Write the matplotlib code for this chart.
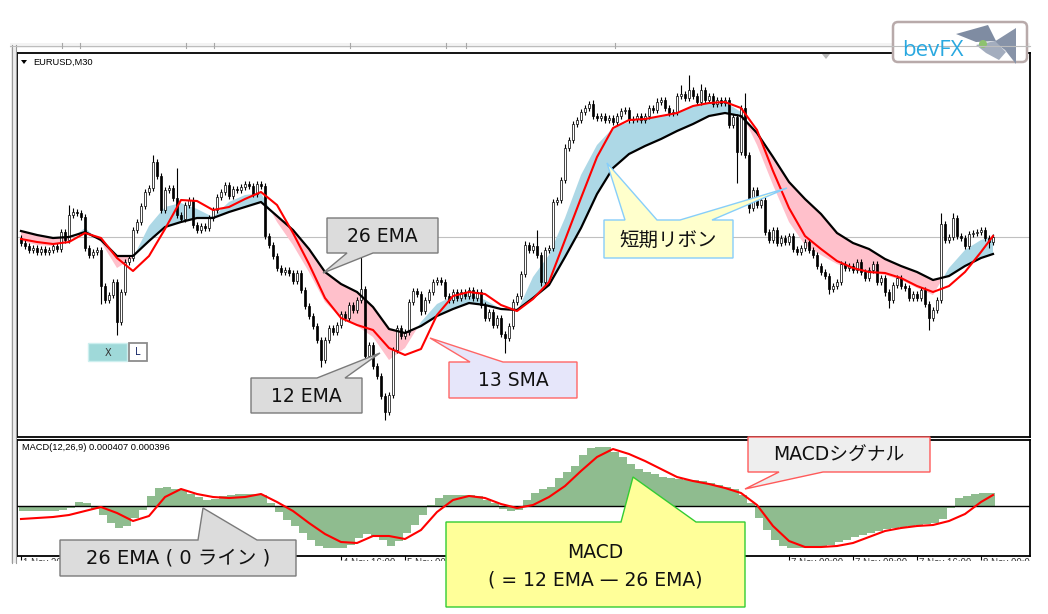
import numpy as np
import matplotlib
matplotlib.use('Agg')
import matplotlib.pyplot as plt
from matplotlib.patches import Polygon, Rectangle, FancyBboxPatch, Circle

W, H = 1048, 614
fig = plt.figure(figsize=(W / 100, H / 100), dpi=100)
fig.patch.set_facecolor('white')

# ---------------- data (price in pips relative to BASE) ----------------
BASE = 1.1000
PIP = 0.0001
MACD_UNIT = 0.00003

open0_pips = -1
closes_pips = [
    -6, -9, -13, -11, -15, -12, -15, -13, -9, -12,
    5, -3, 22, 25, 24, 20, -11, -18, -15, -13,
    -49, -63, -58, -45, -85, -55, -25, -21, 7, 15,
    31, 45, 49, 75, 61, 27, 47, 49, 39, 22,
    18, 32, 37, 12, 7, 11, 9, 19, 27, 40,
    45, 52, 41, 48, 47, 50, 53, 51, 43, 53,
    51, 1, -8, -19, -31, -35, -33, -36, -44, -36,
    -53, -69, -79, -89, -103, -123, -103, -91, -95, -88,
    -77, -81, -68, -73, -63, -52, -119, -108, -129, -139,
    -159, -175, -158, -113, -91, -99, -95, -65, -54, -57,
    -74, -63, -55, -45, -43, -45, -59, -63, -55, -61,
    -55, -59, -53, -61, -55, -68, -81, -75, -88, -81,
    -97, -101, -89, -65, -59, -37, -8, -13, -9, -18,
    -45, -13, -11, 35, 37, 57, 89, 97, 113, 117,
    125, 129, 133, 121, 119, 121, 117, 119, 115, 121,
    126, 127, 117, 118, 121, 117, 121, 129, 127, 135,
    137, 129, 124, 125, 141, 143, 139, 147, 141, 135,
    147, 137, 141, 133, 137, 134, 137, 112, 120, 85,
    129, 82, 29, 47, 32, 37, 5, -3, 7, -6,
    -1, -5, 1, -12, -15, -11, -5, -13, -18, -29,
    -35, -39, -52, -49, -45, -27, -31, -29, -33, -25,
    -35, -41, -33, -27, -45, -41, -55, -63, -48, -41,
    -49, -51, -61, -57, -61, -53, -67, -81, -73, -63,
    13, -3, 0, 19, 1, -1, -9, 3, 4, 5,
    7, -1, -5, 0,
]
DEFAULT_WICK = 3
upper_wick = {12: 10, 13: 4, 33: 7, 39: 30, 85: 32, 126: 4, 129: 16, 136: 4,
              143: 4, 159: 4, 165: 9, 167: 15, 170: 6, 181: 15, 230: 11, 233: 5}
lower_wick = {20: 18, 24: 13, 75: 7, 86: 5, 91: 8, 100: 4, 121: 15, 130: 4,
              179: 31, 182: 5, 202: 5, 216: 4, 217: 8, 227: 12, 242: 6}

# indicator lines sampled every 4 bars
line_idx = list(range(0, 241, 4)) + [243]
sma13_pips = [-2, -5, -7, -5, 4, -1, -21, -34, -19, 8, 37, 36, 27, 30, 38, 45,
              32, 4, -27, -61, -81, -88, -93, -111, -118, -112, -78, -59, -55,
              -57, -68, -74, -62, -45, -3, 39, 80, 109, 117, 118, 121, 124, 131,
              134, 135, 129, 107, 66, 29, 1, -12, -24, -31, -35, -36, -41, -49,
              -55, -49, -35, -15, 1]
ema26_pips = [6, 2, -1, 0, 5, -3, -19, -19, -4, 10, 15, 19, 19, 25, 30, 35,
              21, 7, -12, -35, -47, -55, -70, -92, -96, -89, -79, -72, -66,
              -68, -72, -73, -61, -48, -20, 9, 43, 69, 83, 91, 98, 106, 113,
              121, 124, 121, 104, 80, 55, 38, 23, 4, -6, -12, -22, -29, -35,
              -43, -39, -29, -21, -17]
ema12_pips = [-4, -8, -9, -3, 9, -5, -31, -21, 11, 30, 34, 28, 20, 35, 42, 44,
              15, -8, -35, -65, -81, -89, -100, -123, -111, -85, -67, -59, -57,
              -63, -72, -75, -40, -18, 19, 62, 92, 109, 115, 118, 120, 125, 131,
              135, 135, 125, 92, 52, 15, -8, -18, -27, -33, -36, -38, -43, -51,
              -58, -31, -13, -3, 0]
signal_units = [-13, -12, -11, -9, -5, -1, -7, -15, -10, 9, 17, 12, 9, 8, 9, 12,
                4, -5, -17, -28, -36, -37, -30, -30, -33, -24, -6, 6, 10, 8, 2,
                -2, 1, 9, 20, 35, 49, 57, 52, 45, 37, 29, 25, 22, 18, 13, 1,
                -20, -35, -41, -41, -40, -37, -31, -25, -22, -20, -19, -15, -8,
                4, 11]
# MACD histogram sampled every 2 bars
hist_idx = list(range(0, 243, 2))
hist_units = [
    -5, -5, -5, -5, -5, -4, -2, 4, 3, -3,
    -9, -17, -22, -20, -12, -4, 10, 18, 19, 17,
    16, 12, 9, 6, 7, 10, 11, 12, 12, 12,
    11, 3, -6, -14, -20, -27, -34, -40, -42, -42,
    -42, -39, -32, -28, -30, -34, -40, -35, -27, -19,
    -9, 1, 8, 11, 11, 11, 11, 10, 6, 3,
    -3, -5, -4, 6, 13, 17, 19, 28, 34, 40,
    51, 58, 59, 59, 54, 49, 42, 37, 34, 32,
    29, 28, 27, 26, 26, 25, 23, 21, 19, 17,
    11, 3, -12, -24, -34, -40, -42, -42, -42, -42,
    -41, -39, -36, -34, -31, -29, -27, -25, -23, -22,
    -21, -20, -19, -18, -17, -13, -2, 8, 10, 12,
    13, 13,
]
# time-axis labels (cut off at the bottom of the screenshot); bar index -> text
time_label_bars = [0, 80, 96, 192, 208, 224, 240]
time_labels = ["1 Nov 2019", "4 Nov 16:00", "5 Nov 00:00", "7 Nov 00:00",
               "7 Nov 08:00", "7 Nov 16:00", "8 Nov 00:00"]

# ---------------- derived arrays ----------------
n = len(closes_pips)
idx = np.arange(n)
closes = BASE + np.array(closes_pips) * PIP
opens = np.concatenate([[BASE + open0_pips * PIP], closes[:-1]])
uw = np.array([upper_wick.get(i, DEFAULT_WICK) for i in range(n)]) * PIP
lw_ = np.array([lower_wick.get(i, DEFAULT_WICK) for i in range(n)]) * PIP
highs = np.maximum(opens, closes) + uw
lows = np.minimum(opens, closes) - lw_

lx = np.array(line_idx)
sma13 = BASE + np.array(sma13_pips) * PIP
ema26 = BASE + np.array(ema26_pips) * PIP
ema12 = BASE + np.array(ema12_pips) * PIP
signal = np.array(signal_units) * MACD_UNIT
hist = np.array(hist_units) * MACD_UNIT


def px_axes(x0, y0, x1, y1, **kw):
    return fig.add_axes([x0 / W, 1 - y1 / H, (x1 - x0) / W, (y1 - y0) / H], **kw)


XLIM = (-1, 252.25)

# ---------------- main price panel ----------------
ax = px_axes(17, 53, 1030, 437)
ax.set_xlim(*XLIM)
ax.set_ylim(BASE - 200 * PIP, BASE + 184 * PIP)
ax.set_xticks([]); ax.set_yticks([])
for s in ax.spines.values():
    s.set_color('black'); s.set_linewidth(1.3)

ax.axhline(closes[-1], color='#C0C0C0', lw=0.8, zorder=1)
ax.fill_between(lx, ema26, ema12, where=ema12 >= ema26, interpolate=True,
                color='#ADD8E6', lw=0, zorder=2)
ax.fill_between(lx, ema26, ema12, where=ema12 < ema26, interpolate=True,
                color='#FFC0CB', lw=0, zorder=2)
ax.vlines(idx, lows, highs, color='black', lw=0.8, zorder=3)
bull = closes >= opens
body_h = np.maximum(np.abs(closes - opens), 0.4 * PIP)
body_b = np.minimum(opens, closes)
ax.bar(idx[bull], body_h[bull], bottom=body_b[bull], width=0.72,
       color='white', edgecolor='black', lw=0.5, zorder=4)
ax.bar(idx[~bull], body_h[~bull], bottom=body_b[~bull], width=0.72,
       color='black', edgecolor='black', lw=0.5, zorder=4)
ax.plot(lx, ema26, color='black', lw=1.6, zorder=5)
ax.plot(lx, sma13, color='#FF0000', lw=1.5, zorder=6)

# ---------------- MACD panel ----------------
ax2 = px_axes(17, 440, 1030, 556)
ax2.set_xlim(*XLIM)
ax2.set_ylim(-50 * MACD_UNIT, 66 * MACD_UNIT)
ax2.set_yticks([])
ax2.set_xticks(np.arange(0, 244, 16))
ax2.tick_params(axis='x', direction='out', length=3, width=0.8,
                labelbottom=False, color='black')
for s in ax2.spines.values():
    s.set_color('black'); s.set_linewidth(1.3)
ax2.bar(np.array(hist_idx) + 0.5, hist, width=2.0, color='#8FBC8F', lw=0, zorder=2)
ax2.axhline(0, color='black', lw=1.0, zorder=3)
ax2.plot(lx, signal, color='#FF0000', lw=1.5, zorder=4)

# cut-off time labels under MACD panel (only their top pixels show)
fax = px_axes(17, 557.5, 1030, 561)
fax.set_xlim(*XLIM); fax.set_ylim(0, 1); fax.axis('off')
for b, lab in zip(time_label_bars, time_labels):
    fax.text(b + 0.5, 1.0, lab, fontsize=7, va='top', ha='left',
             color='#333333', clip_on=True, family='Liberation Sans')

# ---------------- overlay (pixel coordinates) ----------------
ov = fig.add_axes([0, 0, 1, 1], zorder=10)
ov.set_xlim(0, W); ov.set_ylim(H, 0); ov.axis('off')
ov.patch.set_alpha(0)

# window frame bits
ov.add_patch(Rectangle((11, 45), 5, 518, fc='#EDEDED', ec='none'))
ov.plot([11.5, 11.5], [45, 563], color='#9A9A9A', lw=0.8)
ov.plot([15.5, 15.5], [45, 563], color='#9A9A9A', lw=0.8)
ov.add_patch(Rectangle((10, 43), 1020, 5, fc='#F3F3F3', ec='none'))
ov.plot([10, 1030], [45.5, 45.5], color='#BDBDBD', lw=0.8)
for tx in [62, 80, 186, 214, 350, 446, 466, 615]:
    ov.plot([tx, tx], [43, 48], color='#A8A8A8', lw=0.8)
ov.add_patch(Polygon([(822, 54), (830, 54), (826, 59)], closed=True,
                     fc='#B8B8B8', ec='none'))

# panel labels
ov.add_patch(Polygon([(21, 60), (27, 60), (24, 64)], closed=True, fc='black', ec='none'))
ov.text(33, 62, 'EURUSD,M30', fontsize=6.7, family='Liberation Sans',
        va='center', ha='left', color='black')
ov.text(22, 448, 'MACD(12,26,9) 0.000407 0.000396', fontsize=6.7,
        family='Liberation Sans', va='center', ha='left', color='black')

# X / L buttons
ov.add_patch(Rectangle((88, 343), 39, 18, fc='#9FD9D9', ec='#CDEFEF', lw=1))
ov.text(108, 352.5, 'X', fontsize=7, ha='center', va='center', color='#333333',
        family='DejaVu Sans')
ov.add_patch(Rectangle((129, 343), 18, 18, fc='white', ec='#8C8C8C', lw=1.3))
ov.text(138, 352, 'L', fontsize=7, ha='center', va='center', color='#1A2A6A',
        family='DejaVu Sans')

# logo
ov.add_patch(FancyBboxPatch((893, 22), 134, 40,
                            boxstyle='round,pad=0,rounding_size=5',
                            fc='white', ec='#B8AAAA', lw=1.8))
ov.text(902, 50, 'bevFX', fontsize=16, family='Open Sans', color='#29A8E0',
        ha='left', va='center')
ov.add_patch(Polygon([(956, 34), (988, 25), (996, 41), (976, 42)], closed=True,
                     fc='#7F8CA2', ec='none'))
ov.add_patch(Polygon([(994, 42), (1016, 28), (1016, 64), (1005, 50)], closed=True,
                     fc='#8793A8', ec='none'))
ov.add_patch(Polygon([(976, 45), (995, 41), (1006, 52), (999, 60), (986, 53)],
                     closed=True, fc='#A3ADBE', ec='none'))
ov.add_patch(Circle((983, 44), 4, fc='#8DC26F', ec='none'))

# callouts
FAM = ['DejaVu Sans', 'Noto Sans CJK JP']
FS = 13.5


def callout(verts, fc, ec, lw=1.0):
    ov.add_patch(Polygon(verts, closed=True, fc=fc, ec=ec, lw=lw,
                         joinstyle='miter', zorder=5))


def label(x, y, s, fs=FS):
    ov.text(x, y, s, fontsize=fs, family=FAM, ha='center', va='center',
            color='#111111', zorder=6)


GRAY_FC, GRAY_EC = '#DCDCDC', '#7A7A7A'
callout([(327, 218), (438, 218), (438, 253), (373, 253), (323, 273), (347, 253),
         (327, 253)], GRAY_FC, GRAY_EC)
label(382.5, 236, '26 EMA')

callout([(251, 378), (317, 378), (380, 353), (345, 378), (362, 378), (362, 413),
         (251, 413)], GRAY_FC, GRAY_EC)
label(306.5, 396, '12 EMA')

callout([(449, 362), (470, 362), (430, 338), (503, 362), (577, 362), (577, 398),
         (449, 398)], '#E6E6FA', '#FF6666')
label(513, 380.5, '13 SMA')

callout([(604, 220), (625, 220), (607, 163), (657, 220), (680, 220), (787, 188),
         (712, 220), (733, 220), (733, 258), (604, 258)], '#FFFFCC', '#87CEFA')
label(668.5, 240, '短期リボン', fs=14)

callout([(748, 437), (930, 437), (930, 472), (823, 472), (745, 489), (779, 472),
         (748, 472)], '#EEEEEE', '#FF5A5A')
label(839, 455, 'MACDシグナル')

callout([(60, 540), (198, 540), (203, 508), (257, 540), (296, 540), (296, 576),
         (60, 576)], GRAY_FC, GRAY_EC)
label(178, 558, '26 EMA ( 0 ライン )', fs=14)

callout([(446, 522), (621, 522), (633, 477), (696, 522), (745, 522), (745, 607),
         (446, 607)], '#FFFF99', '#33CC33')
label(595.5, 553, 'MACD')
label(595.5, 580, '( = 12 EMA — 26 EMA)')

fig.savefig('out.png', dpi=100, facecolor='white')
